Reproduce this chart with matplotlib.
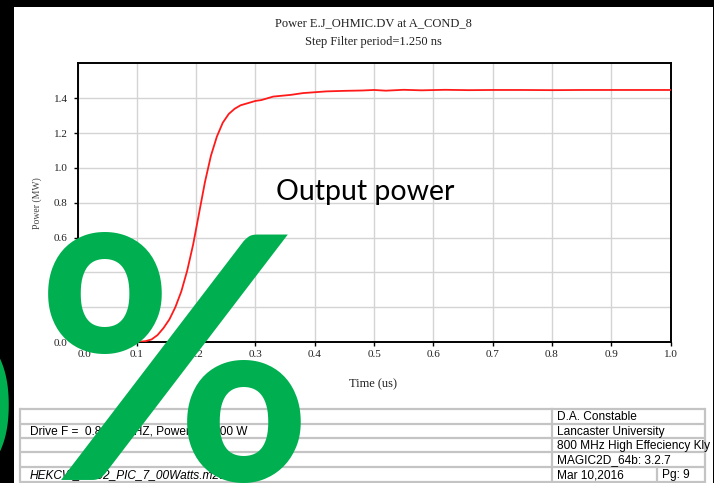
import matplotlib
matplotlib.use("Agg")
import matplotlib.pyplot as plt
from matplotlib.patches import Rectangle

# power vs time
time_us = [0.0, 0.05, 0.10, 0.115, 0.125, 0.135, 0.145, 0.155, 0.165, 0.175, 0.185,
           0.195, 0.205, 0.215, 0.225, 0.235, 0.245, 0.255, 0.265, 0.275, 0.285,
           0.30, 0.31, 0.32, 0.33, 0.345, 0.36, 0.38, 0.40, 0.42, 0.45, 0.48,
           0.50, 0.52, 0.55, 0.58, 0.62, 0.66, 0.70, 0.75, 0.80, 0.85, 1.0]
power_mw = [0.0, 0.0, 0.0, 0.005, 0.015, 0.04, 0.08, 0.13, 0.20, 0.29, 0.41,
            0.56, 0.74, 0.92, 1.07, 1.18, 1.26, 1.31, 1.34, 1.36, 1.37,
            1.385, 1.39, 1.40, 1.41, 1.415, 1.42, 1.43, 1.435, 1.44, 1.443, 1.445,
            1.448, 1.444, 1.449, 1.446, 1.449, 1.447, 1.448, 1.448, 1.447, 1.448, 1.448]

x_ticks = [0.0, 0.1, 0.2, 0.3, 0.4, 0.5, 0.6, 0.7, 0.8, 0.9, 1.0]
y_ticks = [0.0, 0.2, 0.4, 0.6, 0.8, 1.0, 1.2, 1.4]

title_lines = ["Power E.J_OHMIC.DV at A_COND_8", "Step Filter period=1.250 ns"]
left_col = ["", "Drive F =  0.8000 GHZ, Power = 7,000 W", "", "",
            "HEKCW_SH02_PIC_7_00Watts.m2d"]
right_col = ["D.A. Constable", "Lancaster University",
             "800 MHz High Effeciency Kly", "MAGIC2D_64b: 3.2.7", "Mar 10,2016"]
page_label = "Pg: 9"

W, H = 714, 483
fig = plt.figure(figsize=(W / 100, H / 100), dpi=100)
fig.patch.set_facecolor("black")

# background layer in pixel coords (white page + footer table)
bg = fig.add_axes([0, 0, 1, 1], zorder=0)
bg.set_xlim(0, W)
bg.set_ylim(H, 0)
bg.axis("off")
page = Rectangle((14, 7), 699, 476, facecolor="white", edgecolor="none")
bg.add_patch(page)

serif = "Liberation Serif"
sans = "Liberation Sans"
txt_col = "#222222"

bg.text(373, 23, title_lines[0], family=serif, fontsize=9, ha="center", va="center", color=txt_col)
bg.text(373, 42, title_lines[1], family=serif, fontsize=9, ha="center", va="center", color=txt_col)
bg.text(373, 384, "Time (us)", family=serif, fontsize=9, ha="center", va="center", color=txt_col)
bg.text(37, 203, "Power (MW)", family=serif, fontsize=7, rotation=90,
        ha="center", va="center", color="#444444")

# footer table
rows = [409, 424, 438, 452, 467, 482]
tcol = "#c4c4c4"
for y in rows:
    bg.plot([20, 705], [y, y], color=tcol, lw=1.6, solid_capstyle="butt")
for x in [20, 705]:
    bg.plot([x, x], [rows[0], rows[-1]], color=tcol, lw=1.6)
bg.plot([552, 552], [rows[0], rows[-1]], color=tcol, lw=1.6)
bg.plot([657, 657], [rows[4], rows[5]], color=tcol, lw=1.6)
for i in range(5):
    yc = (rows[i] + rows[i + 1]) / 2 + 0.5
    if left_col[i]:
        bg.text(30, yc, left_col[i], family=sans, fontsize=8.6, va="center", color="black",
                style="italic" if i == 4 else "normal")
    bg.text(557, yc, right_col[i], family=sans, fontsize=8.6, va="center", color="black")
bg.text(662, (rows[4] + rows[5]) / 2 + 0.5, page_label, family=sans, fontsize=8.6,
        va="center", color="black")

# main plot
ax = fig.add_axes([77.5 / W, 1 - 342 / H, 593 / W, 279 / H], zorder=1)
ax.set_facecolor("white")
ax.plot(time_us, power_mw, color="#ff1a1a", lw=1.3, zorder=3)
ax.set_xlim(0, 1.0)
ax.set_ylim(0, 1.603)
ax.set_xticks(x_ticks)
ax.set_yticks(y_ticks)
ax.set_xticklabels([f"{v:.1f}" for v in x_ticks])
ax.set_yticklabels([f"{v:.1f}" for v in y_ticks])
ax.grid(True, color="#d4d4d4", lw=1.0)
ax.set_axisbelow(True)
for s in ax.spines.values():
    s.set_color("black")
    s.set_linewidth(1.4)
ax.tick_params(direction="out", length=3, width=1, pad=2.5, colors="black",
               labelcolor=txt_col, labelsize=8)
ax.tick_params(axis="y", pad=4)
for lab in ax.get_xticklabels() + ax.get_yticklabels():
    lab.set_family(serif)
ax.get_xticklabels()[0].set_horizontalalignment("left")

# slide overlay: annotation and big green glyphs
ov = fig.add_axes([0, 0, 1, 1], zorder=2)
ov.set_xlim(0, W)
ov.set_ylim(H, 0)
ov.axis("off")
ov.patch.set_alpha(0)
ov.text(276, 192, "Output power", family="Lato", fontsize=20.5, ha="left", va="center", color="black")
ov.text(174, 480, "%", family="Lato", weight="bold", fontsize=245, ha="center",
        va="baseline", color="#00B050")
ov.text(14, 480, "0", family="Lato", weight="bold", fontsize=150, ha="right",
        va="baseline", color="#00B050")

fig.savefig("out.png", dpi=100, facecolor=fig.get_facecolor())
